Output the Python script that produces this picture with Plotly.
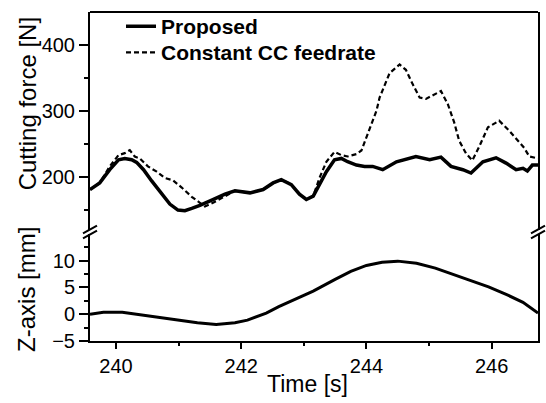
import plotly.graph_objects as go

# ---- data ----
t_proposed = [239.585, 239.74, 239.90, 240.04, 240.14, 240.25, 240.33, 240.44, 240.57, 240.73,
              240.86, 240.99, 241.10, 241.21, 241.34, 241.53, 241.74, 241.90, 242.14, 242.35,
              242.51, 242.64, 242.80, 242.93, 243.04, 243.15, 243.25, 243.36, 243.49, 243.60,
              243.70, 243.84, 243.97, 244.10, 244.26, 244.48, 244.79, 245.01, 245.19, 245.35,
              245.54, 245.67, 245.86, 246.07, 246.23, 246.39, 246.50, 246.57, 246.65, 246.74]
force_proposed = [181, 191, 211, 226, 228, 226, 222, 211, 194, 174,
                  159, 150, 149, 152.5, 157, 165, 174, 179, 176, 181,
                  191, 196, 188.5, 174, 166, 171, 188.5, 208, 226, 228,
                  223, 218, 216, 216, 211, 223, 231, 226, 230, 216,
                  211, 206, 223, 229, 221, 211, 213, 209, 218, 218]

t_constant = [239.585, 239.74, 239.90, 240.04, 240.14, 240.22, 240.30, 240.38, 240.51, 240.65,
              240.78, 240.91, 241.05, 241.21, 241.34, 241.42, 241.55, 241.74, 241.90, 242.14,
              242.35, 242.51, 242.64, 242.80, 242.93, 243.04, 243.15, 243.25, 243.36, 243.49,
              243.60, 243.70, 243.84, 243.92, 244.05, 244.16, 244.21, 244.37, 244.53, 244.63,
              244.74, 244.85, 244.95, 245.06, 245.19, 245.30, 245.40, 245.48, 245.59, 245.69,
              245.80, 245.94, 246.12, 246.28, 246.41, 246.52, 246.60, 246.74]
force_constant = [181, 191, 216, 233, 236, 240.5, 231, 228, 216, 208,
                  198.5, 195, 184, 170, 161, 155.5, 161, 171, 179, 176,
                  181, 191, 196, 188.5, 174, 166, 171, 198.5, 223, 238,
                  233, 231, 234.6, 240, 272, 300, 320, 357, 370, 362,
                  340, 320, 318, 323, 330, 310, 283, 255, 235.6, 225,
                  245.6, 275, 285, 270, 255, 244, 231, 228]

t_z = [239.585, 239.8, 240.1, 240.5, 240.94, 241.3, 241.6, 241.9, 242.1, 242.4,
       242.6, 242.9, 243.15, 243.5, 243.75, 244.0, 244.25, 244.5, 244.8, 245.1,
       245.36, 245.7, 245.95, 246.25, 246.5, 246.74]
z_axis = [0.0, 0.35, 0.35, -0.3, -1.0, -1.6, -1.9, -1.6, -1.1, 0.2,
          1.4, 3.0, 4.3, 6.5, 8.0, 9.1, 9.7, 9.9, 9.5, 8.6,
          7.5, 6.1, 5.1, 3.6, 2.2, 0.2]

force_ticks = [200, 300, 400]
z_ticks = [-5, 0, 5, 10]
time_ticks = [240, 242, 244, 246]

FONT = "Liberation Sans, Arial, sans-serif"

fig = go.Figure()
fig.add_trace(go.Scatter(x=t_proposed, y=force_proposed, mode="lines", name="Proposed",
                         line=dict(color="black", width=3.5), xaxis="x", yaxis="y",
                         legend="legend"))
fig.add_trace(go.Scatter(x=t_constant, y=force_constant, mode="lines", name="Constant CC feedrate",
                         line=dict(color="black", width=2.2, dash="5px,3px"), xaxis="x", yaxis="y",
                         legend="legend2"))
fig.add_trace(go.Scatter(x=t_z, y=z_axis, mode="lines", showlegend=False,
                         line=dict(color="black", width=3), xaxis="x", yaxis="y2"))

W, H = 546, 403
L, R, T, B = 90, 8, 6, 62
pw, ph = W - L - R, H - T - B


def py2paper(py):
    return (H - B - py) / ph


def px2paper(px):
    return (px - L) / pw


legend_font = dict(size=21, weight="bold", family=FONT, color="black")
fig.update_layout(
    width=W, height=H,
    margin=dict(l=L, r=R, t=T, b=B),
    paper_bgcolor="white", plot_bgcolor="white",
    font=dict(family=FONT, size=20, color="black"),
    showlegend=True,
    legend=dict(x=px2paper(121), y=py2paper(0), xanchor="left", yanchor="top",
                bgcolor="rgba(0,0,0,0)", font=legend_font, itemwidth=30),
    legend2=dict(x=px2paper(121), y=py2paper(26.5), xanchor="left", yanchor="top",
                 bgcolor="rgba(0,0,0,0)", font=legend_font, itemwidth=30),
    xaxis=dict(range=[239.585, 246.74], anchor="y2", showline=True, linecolor="black",
               linewidth=2, ticks="outside", ticklen=6, tickwidth=1.5, tickcolor="black",
               tickvals=time_ticks, showgrid=False, zeroline=False,
               minor=dict(tickvals=[239, 241, 243, 245], ticks="outside", ticklen=3,
                          tickcolor="black", showgrid=False),
               tickfont=dict(size=20)),
    yaxis=dict(domain=[py2paper(228), 1], range=[119.8, 449.4], showline=True, mirror=True,
               linecolor="black", linewidth=2, ticks="outside", ticklen=9, tickwidth=1.5,
               tickcolor="black", tickvals=force_ticks, showgrid=False, zeroline=False,
               minor=dict(tickvals=[150, 250, 350], ticks="outside", ticklen=4,
                          tickcolor="black", showgrid=False),
               tickfont=dict(size=20)),
    yaxis2=dict(domain=[0, py2paper(232)], range=[-5, 14.97], showline=True, mirror=True,
                linecolor="black", linewidth=2, ticks="outside", ticklen=9, tickwidth=1.5,
                tickcolor="black", tickvals=z_ticks, showgrid=False, zeroline=False,
                minor=dict(tickvals=[-2.5, 2.5, 7.5, 12.5], ticks="outside", ticklen=4,
                           tickcolor="black", showgrid=False),
                tickfont=dict(size=20)),
)

shapes = []
# top frame line
shapes.append(dict(type="line", xref="paper", yref="paper", x0=0, x1=1, y0=1, y1=1,
                   line=dict(color="black", width=2)))
# axis break marks (left and right)
for cx in (0, 1):
    for dy in (-2.5, 2.5):
        shapes.append(dict(type="line", xref="paper", yref="paper",
                           x0=cx - 7 / pw, x1=cx + 7 / pw,
                           y0=py2paper(230 + dy + 4), y1=py2paper(230 + dy - 4),
                           line=dict(color="black", width=2)))
fig.update_layout(shapes=shapes)

fig.add_annotation(text="Cutting force [N]", xref="paper", yref="paper",
                   x=px2paper(27), y=py2paper(100), textangle=-90, showarrow=False,
                   font=dict(size=24, family=FONT), xanchor="center", yanchor="middle")
fig.add_annotation(text="Z-axis [mm]", xref="paper", yref="paper",
                   x=px2paper(27), y=py2paper(289), textangle=-90, showarrow=False,
                   font=dict(size=24, family=FONT), xanchor="center", yanchor="middle")
fig.add_annotation(text="Time [s]", xref="paper", yref="paper",
                   x=px2paper(307), y=py2paper(385), showarrow=False,
                   font=dict(size=23, family=FONT), xanchor="center", yanchor="middle")

fig.write_html("out.html", config={"displayModeBar": False},
               post_script="document.body.style.margin='0';document.body.style.padding='0';")
